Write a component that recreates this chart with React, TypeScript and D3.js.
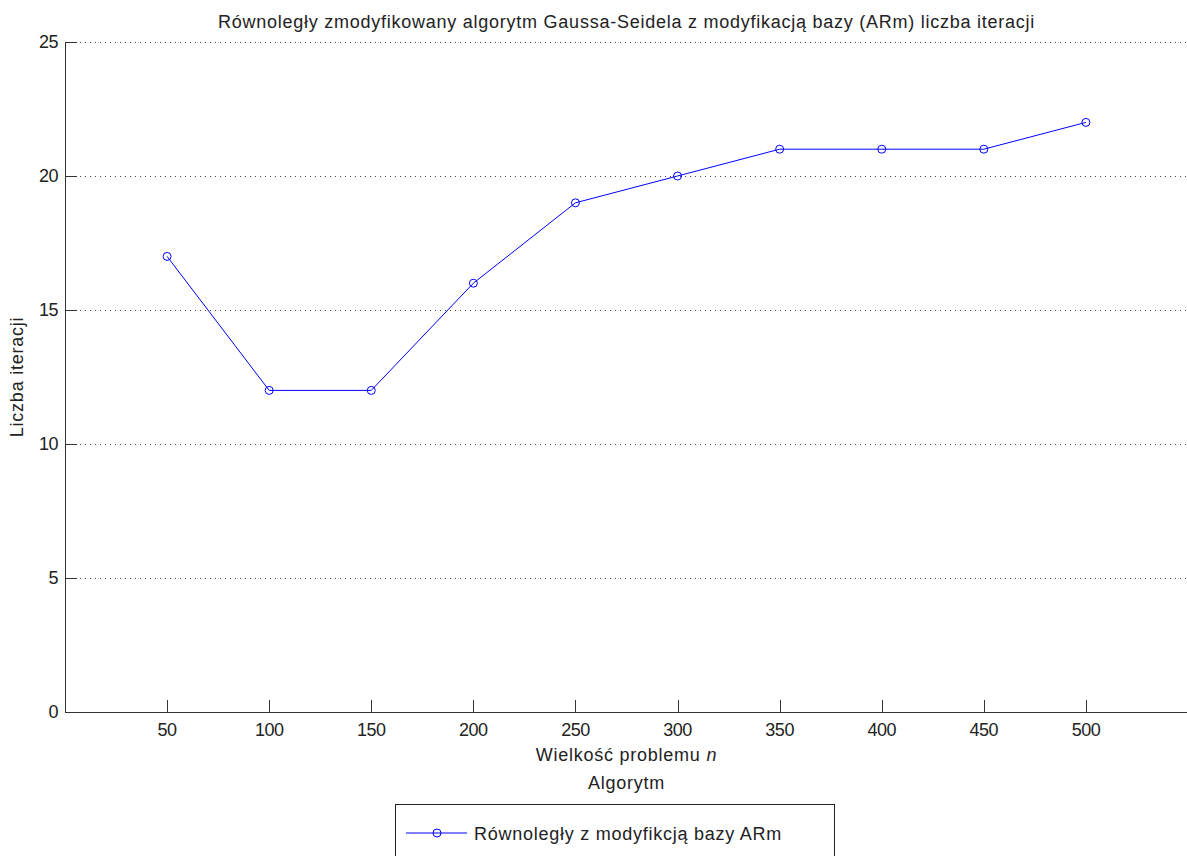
import React from "react";
import * as d3 from "d3";

const xValues = [50, 100, 150, 200, 250, 300, 350, 400, 450, 500];
const yValues = [17, 12, 12, 16, 19, 20, 21, 21, 21, 22];
const xTicks = [50, 100, 150, 200, 250, 300, 350, 400, 450, 500];
const yTicks = [0, 5, 10, 15, 20, 25];
const title = "Równoległy zmodyfikowany algorytm Gaussa-Seidela z modyfikacją bazy (ARm) liczba iteracji";
const xLabel = "Wielkość problemu ";
const xLabelItalic = "n";
const subLabel = "Algorytm";
const yLabel = "Liczba iteracji";
const legendLabel = "Równoległy z modyfikcją bazy ARm";

export default function App() {
  const W = 1187, H = 856;
  const left = 65, right = 1188, top = 42, bottom = 712;
  const x = d3.scaleLinear().domain([0, 550]).range([left, right]);
  const y = d3.scaleLinear().domain([0, 25]).range([bottom, top]);
  const line = d3.line<number>().x((_, i) => x(xValues[i])).y((d) => y(d));
  const font = "'Liberation Sans', Arial, sans-serif";
  const fs = 18;
  const ls = 0.75;
  const txt = "#222";
  const ax = "#333";
  const tickLen = 12;
  return (
    <svg width={W} height={H} style={{ position: "absolute", left: 0, top: 0, background: "#fff" }} fontFamily={font} fontSize={fs}>
      <rect x={0} y={0} width={W} height={H} fill="#fff" />
      {yTicks.map((t) => (
        <g key={"gy" + t}>
          {t > 0 && (
            <line x1={left} x2={right} y1={y(t) + 0.5} y2={y(t) + 0.5} stroke="#444" strokeWidth={1} strokeDasharray="1 4" />
          )}
          <line x1={left} x2={left + tickLen} y1={y(t) + 0.5} y2={y(t) + 0.5} stroke={ax} />
          <text x={left - 7} y={y(t)} dy="0.35em" textAnchor="end" fill={txt} letterSpacing={-0.5}>{t}</text>
        </g>
      ))}
      {xTicks.map((t) => (
        <g key={"gx" + t}>
          <line x1={Math.round(x(t)) + 0.5} x2={Math.round(x(t)) + 0.5} y1={bottom} y2={bottom - tickLen} stroke={ax} />
          <text x={x(t)} y={bottom + 18} dy="0.35em" textAnchor="middle" fill={txt} letterSpacing={-0.5}>{t}</text>
        </g>
      ))}
      <line x1={left + 0.5} x2={left + 0.5} y1={top} y2={bottom + 0.5} stroke={ax} />
      <line x1={left} x2={right} y1={bottom + 0.5} y2={bottom + 0.5} stroke={ax} />
      <path d={line(yValues) || ""} fill="none" stroke="#0000ff" strokeWidth={1} />
      {yValues.map((v, i) => (
        <circle key={i} cx={x(xValues[i])} cy={y(v)} r={4} fill="none" stroke="#0000ff" strokeWidth={1} />
      ))}
      <text x={(left + right) / 2} y={28} textAnchor="middle" fill={txt} letterSpacing={ls}>{title}</text>
      <text x={(left + right) / 2} y={761} textAnchor="middle" fill={txt} letterSpacing={ls}>
        {xLabel}<tspan fontStyle="italic">{xLabelItalic}</tspan>
      </text>
      <text x={(left + right) / 2} y={789} textAnchor="middle" fill={txt} letterSpacing={ls}>{subLabel}</text>
      <text transform={`translate(23,${(top + bottom) / 2}) rotate(-90)`} textAnchor="middle" fill={txt} letterSpacing={ls}>{yLabel}</text>
      <rect x={395.5} y={804.5} width={439} height={70} fill="#fff" stroke="#222" />
      <line x1={406} x2={467} y1={833} y2={833} stroke="#0000ff" />
      <circle cx={437} cy={833} r={4} fill="none" stroke="#0000ff" />
      <text x={474} y={840} fill={txt} letterSpacing={ls}>{legendLabel}</text>
    </svg>
  );
}
